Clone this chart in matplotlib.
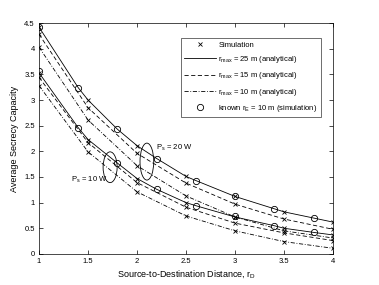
import matplotlib
matplotlib.use("Agg")
import matplotlib.pyplot as plt
from matplotlib.lines import Line2D
from matplotlib.patches import Ellipse

plt.rcParams["font.family"] = ["Liberation Sans", "DejaVu Sans"]
plt.rcParams["mathtext.fontset"] = "custom"
plt.rcParams["mathtext.rm"] = "Liberation Sans"

# source-to-destination distance where the simulated points sit
r_d = [1, 1.5, 2, 2.5, 3, 3.5, 4]

# P_s = 20 W
ps20_r25 = [4.42, 3.00, 2.11, 1.51, 1.12, 0.82, 0.62]
ps20_r15 = [4.28, 2.85, 1.96, 1.38, 0.97, 0.68, 0.48]
ps20_r10 = [4.03, 2.61, 1.72, 1.13, 0.72, 0.45, 0.31]

# P_s = 10 W
ps10_r25 = [3.53, 2.23, 1.47, 1.00, 0.72, 0.50, 0.37]
ps10_r15 = [3.44, 2.17, 1.39, 0.91, 0.60, 0.41, 0.26]
ps10_r10 = [3.28, 1.99, 1.21, 0.74, 0.45, 0.24, 0.11]

# known r_E = 10 m (simulation)
r_d_known = [1, 1.4, 1.8, 2.2, 2.6, 3.0, 3.4, 3.8]
ps20_known = [4.42, 3.24, 2.43, 1.86, 1.43, 1.12, 0.88, 0.70]
ps10_known = [3.57, 2.46, 1.77, 1.26, 0.94, 0.73, 0.55, 0.42]

xticks = [1, 1.5, 2, 2.5, 3, 3.5, 4]
xtick_labels = ["1", "1.5", "2", "2.5", "3", "3.5", "4"]
yticks = [0, 0.5, 1, 1.5, 2, 2.5, 3, 3.5, 4, 4.5]
ytick_labels = ["0", "0.5", "1", "1.5", "2", "2.5", "3", "3.5", "4", "4.5"]

LW = 0.6
DASH = (0, (5, 3))
DASHDOT = (0, (5, 2, 1, 2))


def merged(xa, ya, xb, yb):
    # the solid curve passes through both the crosses and the circles
    pts = sorted(set(zip(xa, ya)) | set(zip(xb, yb)))
    seen = {}
    for x, y in pts:
        seen.setdefault(x, y)
    xs = sorted(seen)
    return xs, [seen[x] for x in xs]


fig = plt.figure(figsize=(3.79, 2.85), dpi=100)
ax = fig.add_axes([0.103, 0.109, 0.776, 0.810])

for vals, known in [(ps20_r25, ps20_known), (ps10_r25, ps10_known)]:
    xs, ys = merged(r_d, vals, r_d_known, known)
    ax.plot(xs, ys, color="black", linestyle="-", linewidth=LW)

for vals in [ps20_r15, ps10_r15]:
    ax.plot(r_d, vals, color="black", linestyle=DASH, linewidth=LW)
for vals in [ps20_r10, ps10_r10]:
    ax.plot(r_d, vals, color="black", linestyle=DASHDOT, linewidth=LW)

for vals in [ps20_r25, ps20_r15, ps20_r10, ps10_r25, ps10_r15, ps10_r10]:
    ax.plot(r_d, vals, linestyle="none", marker="x", color="black",
            markersize=3, markeredgewidth=0.6)

for vals in [ps20_known, ps10_known]:
    ax.plot(r_d_known, vals, linestyle="none", marker="o", markersize=4.5,
            markerfacecolor="none", markeredgecolor="black", markeredgewidth=0.6)

ax.add_patch(Ellipse((1.725, 1.69), 0.143, 0.60, fill=False, edgecolor="black", linewidth=0.6))
ax.add_patch(Ellipse((2.10, 1.80), 0.140, 0.72, fill=False, edgecolor="black", linewidth=0.6))
ax.text(2.19, 2.07, r"P$_{\mathrm{s}}$ = 20 W", fontsize=5.5, va="center", ha="left")
ax.text(1.33, 1.45, r"P$_{\mathrm{s}}$ = 10 W", fontsize=5.5, va="center", ha="left")

ax.set_xlim(1, 4)
ax.set_ylim(0, 4.5)
ax.set_xticks(xticks)
ax.set_xticklabels(xtick_labels)
ax.set_yticks(yticks)
ax.set_yticklabels(ytick_labels)
ax.tick_params(direction="in", length=3, width=0.5, labelsize=5.5,
               top=True, right=True, pad=3)
for sp in ax.spines.values():
    sp.set_linewidth(0.5)

ax.set_xlabel(r"Source-to-Destination Distance, r$_{\mathrm{D}}$", fontsize=6.5, labelpad=2)
ax.set_ylabel("Average Secrecy Capacity", fontsize=6.5, labelpad=4)

handles = [
    Line2D([], [], linestyle="none", marker="x", color="black", markersize=3, markeredgewidth=0.6),
    Line2D([], [], color="black", linestyle="-", linewidth=LW),
    Line2D([], [], color="black", linestyle=DASH, linewidth=LW),
    Line2D([], [], color="black", linestyle=DASHDOT, linewidth=LW),
    Line2D([], [], linestyle="none", marker="o", markersize=4.5, markerfacecolor="none",
           markeredgecolor="black", markeredgewidth=0.6),
]
labels = [
    "Simulation",
    r"r$_{\mathrm{max}}$ = 25 m (analytical)",
    r"r$_{\mathrm{max}}$ = 15 m (analytical)",
    r"r$_{\mathrm{max}}$ = 10 m (analytical)",
    r"known r$_{\mathrm{E}}$ = 10 m (simulation)",
]
leg = ax.legend(handles, labels, loc="upper right", bbox_to_anchor=(0.959, 0.936),
                borderaxespad=0, fontsize=5.5, frameon=True, fancybox=False,
                edgecolor="black", handlelength=4.2, handletextpad=0.3,
                labelspacing=0.7, borderpad=0.45)
leg.get_frame().set_linewidth(0.5)

fig.savefig("out.png", dpi=100)
